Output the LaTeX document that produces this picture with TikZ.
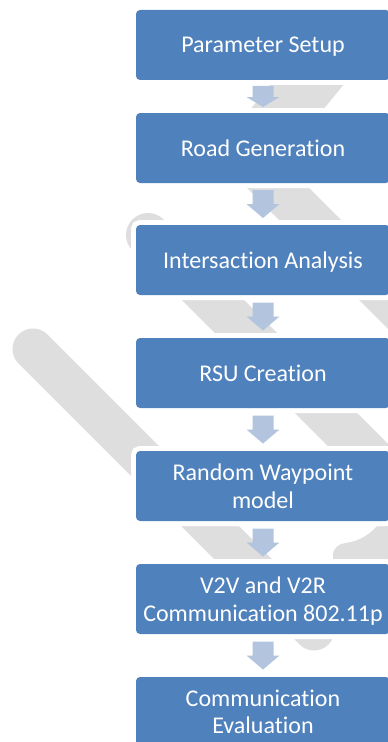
\documentclass[tikz,border=0pt]{standalone}
\usepackage{fontspec}
\setmainfont{Carlito}[Ligatures=NoCommon, RawFeature={-liga;-clig;-dlig}]
\usetikzlibrary{calc}
\definecolor{boxblue}{HTML}{4F81BD}
\definecolor{arrowblue}{HTML}{B3C4DF}
\definecolor{bandgray}{HTML}{DEDEDE}
\begin{document}
\begin{tikzpicture}[x=0.75pt,y=-0.75pt,
  stepbox/.style={rectangle, fill=boxblue, rounded corners=3pt,
    minimum width=190.5pt, minimum height=52.5pt, inner sep=0pt,
    text=white, align=center, text depth=0pt,
    font=\fontsize{18pt}{20.5pt}\selectfont,
    preaction={draw=white, line width=7.5pt}},
  band/.style={draw=bandgray, line cap=round},
  bandfill/.style={fill=bandgray},
  pics/flowarrow/.style 2 args={code={
    \fill[arrowblue] (-10.5,-#1/2) -- (10.5,-#1/2) -- (10.5,#1/2-#2)
      -- (16.5,#1/2-#2) -- (0,#1/2) -- (-16.5,#1/2-#2)
      -- (-10.5,#1/2-#2) -- cycle;}}
]
\useasboundingbox (0,0) rectangle (388,742);
\clip (0,0) rectangle (388,742);
\fill[white] (0,0) rectangle (388,742);

% background grey bands
\fill[bandfill] (307,40) -- (380,40) -- (282,160) -- (209,160) -- cycle;
\fill[bandfill] (199,140) -- (261,140) -- (461,340) -- (399,340) -- cycle;
\draw[band, line width=33pt] (148,235) -- (520,607);
\draw[band, line width=30.75pt] (33,349) -- (314,630);
\fill[bandfill] (392,526) -- (377,526) .. controls (370,534) and (360,541) .. (346,543)
  .. controls (338,544) and (333,548) .. (333,556) -- (333,575) -- (392,575) -- cycle;

% process boxes
\node[stepbox] (b1) at (263,45) {Parameter Setup};
\node[stepbox] (b2) at (263,148) {Road Generation};
\node[stepbox] (b3) at (263,260) {Intersaction Analysis};
\node[stepbox] (b4) at (263,373) {RSU Creation};
\node[stepbox] (b5) at (263,486) {Random Waypoint\\model};
\node[stepbox] (b6) at (263,599) {V2V and V2R\\Communication 802.11p};
\node[stepbox] (b7) at (263,712) {Communication\\Evaluation};

% block arrows
\pic at ($(b1.south)!0.5!(b2.north)$) {flowarrow={21}{10}};
\pic at ($(b2.south)!0.5!(b3.north)$) {flowarrow={28}{14}};
\pic at ($(b3.south)!0.5!(b4.north)$) {flowarrow={28}{14}};
\pic at ($(b4.south)!0.5!(b5.north)$) {flowarrow={28}{14}};
\pic at ($(b5.south)!0.5!(b6.north)$) {flowarrow={28}{14}};
\pic at ($(b6.south)!0.5!(b7.north)$) {flowarrow={28}{14}};
\end{tikzpicture}
\end{document}
